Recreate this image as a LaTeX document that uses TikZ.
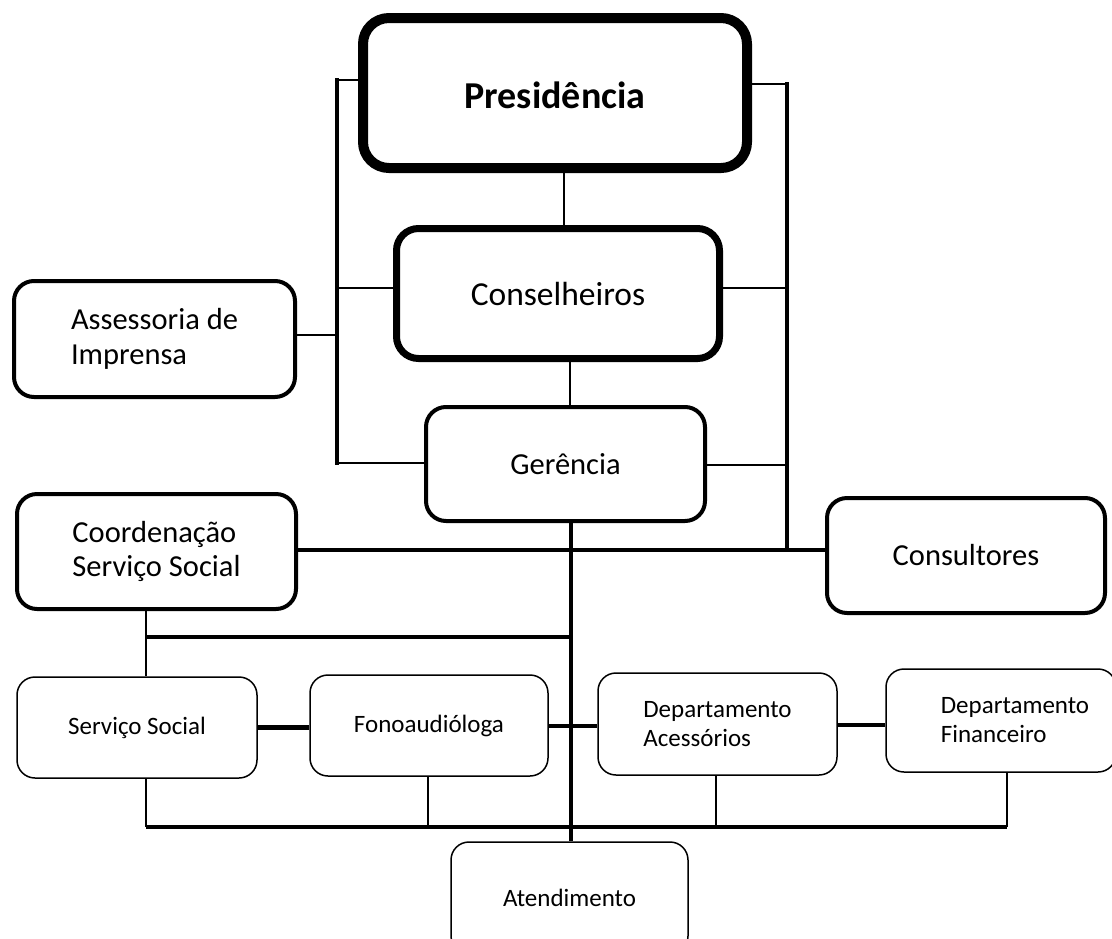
\documentclass[tikz,border=0pt]{standalone}
\usepackage{fontspec}
\setmainfont{Carlito}
\begin{document}
\begin{tikzpicture}[x=1pt,y=-1pt,
  bigbox/.style={draw, rounded corners=26pt, line width=10pt, minimum width=384pt, minimum height=150pt, inner sep=0pt, text height=30pt, text depth=0pt, font=\bfseries\fontsize{38}{44}\selectfont},
  consbox/.style={draw, rounded corners=22pt, line width=7pt, minimum width=323pt, minimum height=130pt, inner sep=0pt, font=\fontsize{33.5}{38}\selectfont},
  midbox/.style={draw, rounded corners=20pt, line width=4pt, minimum width=280pt, minimum height=115pt, inner sep=0pt, align=left, font=\fontsize{30.5}{34.5}\selectfont},
  smallbox/.style={draw, rounded corners=18pt, line width=1.5pt, minimum width=238pt, minimum height=101pt, inner sep=0pt, align=left, font=\fontsize{25}{29}\selectfont},
  thinln/.style={line width=2pt},
  vbar/.style={line width=4pt, line cap=rect},
  bus/.style={line width=4.5pt}]
\useasboundingbox (0,0) rectangle (1112,938);
\fill[white] (0,0) rectangle (1112,938);

% boxes
\node[bigbox] (pres) at (555,93) {Presidência};
\node[consbox] (cons) at (558,293.5) {Conselheiros};
\node[midbox, minimum width=281pt, minimum height=116pt] (ass) at (154.5,339) {Assessoria de\\Imprensa};
\node[midbox, minimum width=279pt, minimum height=114pt] (ger) at (565.5,464) {Gerência};
\node[midbox, minimum width=279pt] (coord) at (156.5,551.5) {Coordenação\\Serviço Social};
\node[midbox, minimum width=278pt] (csl) at (966,555.5) {Consultores};
\node[smallbox, minimum width=240pt] (ss) at (137,727.5) {Serviço Social};
\node[smallbox] (fono) at (429,725.5) {Fonoaudióloga};
\node[smallbox, minimum width=239pt, minimum height=102pt] (depa) at (717.5,724) {Departamento\\Acessórios};
\node[smallbox, minimum width=230pt, minimum height=103pt] (depf) at (1001,720.5) {\hspace*{28pt}Departamento\\\hspace*{28pt}Financeiro};
\node[smallbox, minimum width=237pt, minimum height=112pt] (aten) at (569.5,898) {Atendimento};

% coordinates of the connector lines
\coordinate (lt) at (337,80);
\coordinate (lb) at (337,463);
\coordinate (rt) at (787,84);
\coordinate (rb) at (787,550);
\coordinate (yc) at (0,288);
\coordinate (ya) at (0,335);
\coordinate (yg) at (0,465);
\coordinate (yl) at (0,726);
\coordinate (yr) at (0,725);
\coordinate (xp) at (564,0);
\coordinate (xg) at (570,0);
\coordinate (xm) at (571,0);
\coordinate (ys) at (0,637);
\coordinate (yb) at (0,827);
\coordinate (xs) at (146,0);
\coordinate (xf) at (428,0);
\coordinate (xa) at (716,0);
\coordinate (xd) at (1007,0);

% left side tree
\draw[thinln] (pres.west |- lt) -- (lt);
\draw[vbar] (lt) -- (lb);
\draw[thinln] (cons.west |- yc) -- (lt |- yc);
\draw[thinln] (ass.east |- ya) -- (lt |- ya);
\draw[thinln] (lb) -- (ger.west |- lb);
% right side tree
\draw[thinln] (pres.east |- rt) -- (rt);
\draw[vbar] (rt) -- (rb);
\draw[thinln] (cons.east |- yc) -- (rt |- yc);
\draw[thinln] (ger.east |- yg) -- (rt |- yg);
% centre spine
\draw[thinln] (pres.south -| xp) -- (cons.north -| xp);
\draw[thinln] (cons.south -| xg) -- (ger.north -| xg);
\draw[line width=3.5pt] (ger.south -| xm) -- (aten.north -| xm);
% coordination / consultants bus
\draw[bus] (coord.east |- rb) -- (csl.west |- rb);
% lower part
\draw[thinln] (coord.south -| xs) -- (ss.north -| xs);
\draw[bus] (xs |- ys) -- (xm |- ys);
\draw[bus] (ss.east) -- (fono.west |- ss.east);
\draw[bus] (fono.east |- yl) -- (depa.west |- yl);
\draw[bus] (depa.east |- yr) -- (depf.west |- yr);
\draw[bus] (xs |- yb) -- (xd |- yb);
\draw[thinln] (ss.south -| xs) -- (xs |- yb);
\draw[thinln] (fono.south -| xf) -- (xf |- yb);
\draw[thinln] (depa.south -| xa) -- (xa |- yb);
\draw[thinln] (depf.south -| xd) -- (xd |- yb);
\end{tikzpicture}
\end{document}
